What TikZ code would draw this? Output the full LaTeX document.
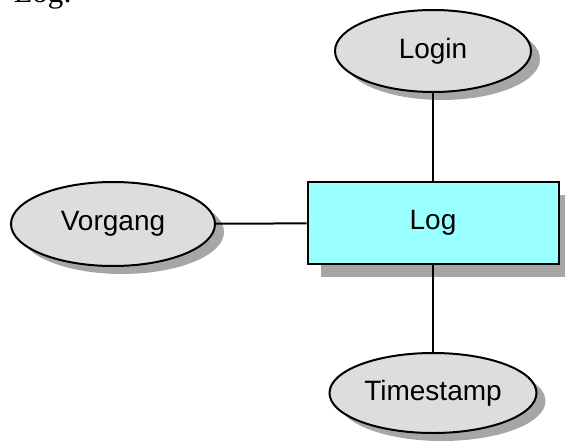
\documentclass[tikz,border=0pt]{standalone}
\usepackage{fontspec}
\setmainfont{Liberation Serif}
\setsansfont{Liberation Sans}
\usetikzlibrary{shapes, shadows}

\definecolor{logcyan}{RGB}{153,255,255}
\definecolor{attrgray}{RGB}{221,221,221}
\definecolor{shadowgray}{RGB}{166,166,166}

\tikzset{
  attr/.style={ellipse, draw, line width=2pt, fill=attrgray, inner sep=0pt,
    font=\sffamily\fontsize{28}{33}\selectfont,
    drop shadow={shadow xshift=9pt, shadow yshift=-8pt, fill=shadowgray, opacity=1}},
  entity/.style={rectangle, draw, line width=2pt, fill=logcyan, inner sep=0pt,
    minimum width=251pt, minimum height=82pt,
    font=\sffamily\fontsize{28}{33}\selectfont,
    drop shadow={shadow xshift=13pt, shadow yshift=-13pt, fill=shadowgray, opacity=1}}
}

\begin{document}
\begin{tikzpicture}[x=1pt, y=-1pt]
\useasboundingbox (0,0) rectangle (565,442);
\node[anchor=base west, font=\fontsize{31}{36}\selectfont] (title) at (10,2) {Log:};
\node[attr, minimum width=196pt, minimum height=82pt] (login) at (433,51) {Login};
\node[attr, minimum width=204pt, minimum height=84pt] (vorgang) at (113,224) {Vorgang};
\node[entity] (log) at (433,223) {Log};
\node[attr, minimum width=207pt, minimum height=80pt] (time) at (433,393) {Timestamp};
\draw[line width=2pt] (log) edge (login) edge (vorgang) edge (time);
\end{tikzpicture}
\end{document}
